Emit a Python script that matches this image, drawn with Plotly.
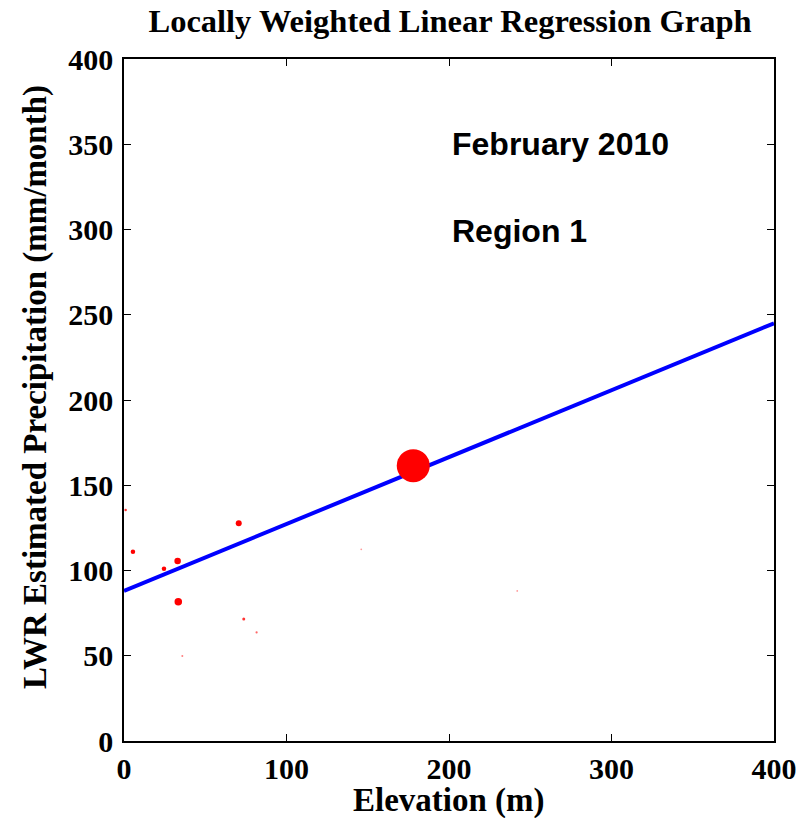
import plotly.graph_objects as go

# Station data (elevation m, precipitation mm/month, marker weight size)
elev = [1, 5.5, 24.6, 33, 33.4, 70.6, 73.7, 81.6, 35.9, 178, 146, 242]
precip = [135.5, 111, 101, 105.6, 81.7, 127.7, 71.6, 63.7, 49.8, 161.5, 112.4, 88]
sizes = [2.5, 4.5, 4.5, 6.5, 7.5, 6, 3, 2.2, 2, 33, 1.8, 1.8]
alphas = [0.8, 1, 1, 1, 1, 1, 0.8, 0.6, 0.5, 1, 0.4, 0.4]

# LWR regression line
line_x = [0, 400]
line_y = [88, 245]

xticks = [0, 100, 200, 300, 400]
yticks = [0, 50, 100, 150, 200, 250, 300, 350, 400]

serif = "Liberation Serif, Times New Roman, serif"
sans = "Liberation Sans, Arial, sans-serif"

fig = go.Figure()
fig.add_trace(go.Scatter(
    x=line_x, y=line_y, mode="lines",
    line=dict(color="rgb(0,0,255)", width=4), showlegend=False, hoverinfo="skip"))
fig.add_trace(go.Scatter(
    x=elev, y=precip, mode="markers",
    marker=dict(size=sizes, opacity=1, color=[f"rgba(255,0,0,{a})" for a in alphas],
                line=dict(width=0)),
    showlegend=False))

fig.add_annotation(x=200.5, y=350, xref="x", yref="y", text="<b>February 2010</b>",
                   showarrow=False, xanchor="left", yanchor="middle",
                   font=dict(family=sans, size=32, color="black"))
fig.add_annotation(x=200.5, y=299, xref="x", yref="y", text="<b>Region 1</b>",
                   showarrow=False, xanchor="left", yanchor="middle",
                   font=dict(family=sans, size=32, color="black"))

# Axis titles as positioned annotations
fig.add_annotation(x=0.5, y=0, xref="paper", yref="paper", yshift=-59,
                   text="<b>Elevation (m)</b>", showarrow=False,
                   xanchor="center", yanchor="middle",
                   font=dict(family=serif, size=33, color="black"))
fig.add_annotation(x=0, y=0.5, xref="paper", yref="paper", xshift=-89, yshift=13,
                   text="<b>LWR Estimated Precipitation (mm/month)</b>", showarrow=False,
                   textangle=-90, xanchor="center", yanchor="middle",
                   font=dict(family=serif, size=33, color="black"))

axis_common = dict(
    showgrid=False, zeroline=False, showline=True, linecolor="black", linewidth=1.5,
    mirror="ticks", ticks="inside", ticklen=7, tickwidth=1.2, tickcolor="black",
    automargin=False,
    tickfont=dict(family=serif, size=30, color="black", weight="bold"),
)

fig.update_layout(
    width=800, height=818,
    margin=dict(l=124, r=26, t=59, b=77),
    paper_bgcolor="white", plot_bgcolor="white",
    title=dict(text="<b>Locally Weighted Linear Regression Graph</b>", x=0.5625, xanchor="center",
               y=0.975, yanchor="middle", font=dict(family=serif, size=32.5, color="black")),
    xaxis=dict(range=[0, 400], tickvals=xticks, ticklabelstandoff=0, **axis_common),
    yaxis=dict(range=[0, 400], tickvals=yticks, ticklabelstandoff=3, **axis_common),
)

fig.write_html("out.html")
